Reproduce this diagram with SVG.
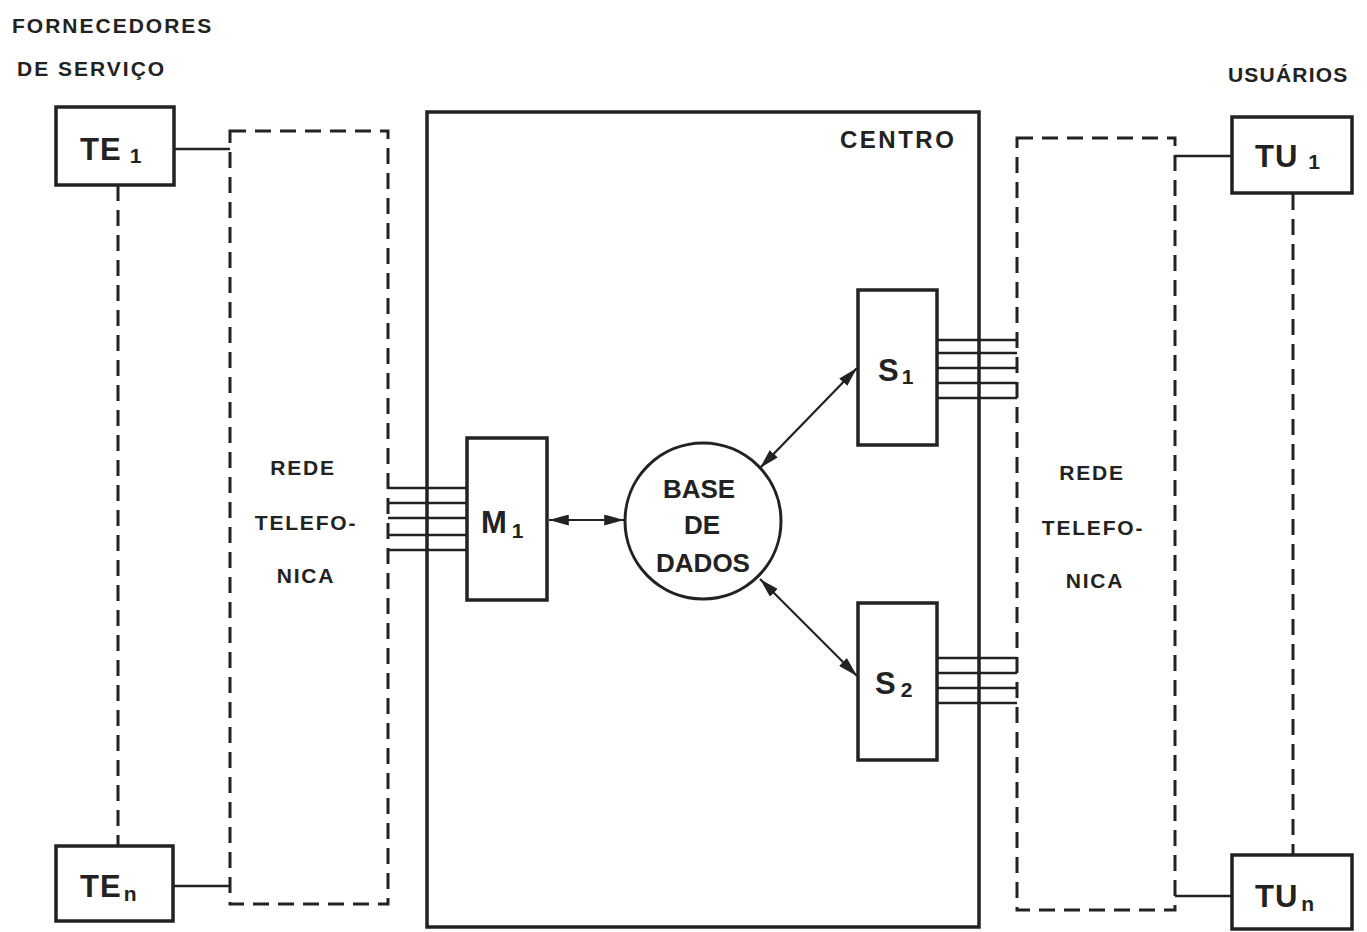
<svg xmlns="http://www.w3.org/2000/svg" width="1367" height="932" viewBox="0 0 1367 932">
<defs>
<style>
.box{fill:none;stroke:#222;stroke-width:3.5}
.dash{fill:none;stroke:#222;stroke-width:3;stroke-dasharray:16 9}
.ln{fill:none;stroke:#222;stroke-width:2.5}
.arr{fill:none;stroke:#222;stroke-width:2.2;marker-start:url(#ah);marker-end:url(#ah)}
.t{font-family:"Liberation Sans",Arial,sans-serif;font-weight:bold;fill:#222}
.lbl{font-size:21px;letter-spacing:1.8px}
.big{font-size:31px}
.sub{font-size:21px}
</style>
<marker id="ah" viewBox="0 0 18 10" refX="18" refY="5" markerWidth="9" markerHeight="5" markerUnits="strokeWidth" orient="auto-start-reverse">
<path d="M0,0 L18,5 L0,10 Z" fill="#222"/>
</marker>
</defs>
<rect width="1367" height="932" fill="#fff"/>

<g id="titles">
<text class="t lbl" x="12" y="33" style="letter-spacing:2px">FORNECEDORES</text>
<text class="t lbl" x="17" y="76" style="letter-spacing:2px">DE  SERVIÇO</text>
<text class="t lbl" x="1228" y="82" style="letter-spacing:1.2px">USUÁRIOS</text>
</g>

<g id="connectors">
<line class="ln" x1="174" y1="149" x2="230" y2="149"/>
<line class="ln" x1="173" y1="886" x2="230" y2="886"/>
<line class="dash" x1="118" y1="185" x2="118" y2="846"/>
<line class="ln" x1="1175" y1="156" x2="1232" y2="156"/>
<line class="ln" x1="1175" y1="896" x2="1232" y2="896"/>
<line class="dash" x1="1293" y1="194" x2="1293" y2="855"/>
<g class="ln">
<line x1="388" y1="488" x2="467" y2="488"/>
<line x1="388" y1="503" x2="467" y2="503"/>
<line x1="388" y1="518" x2="467" y2="518"/>
<line x1="388" y1="535" x2="467" y2="535"/>
<line x1="388" y1="550" x2="467" y2="550"/>
<line x1="937" y1="340" x2="1017" y2="340"/>
<line x1="937" y1="353" x2="1017" y2="353"/>
<line x1="937" y1="368" x2="1017" y2="368"/>
<line x1="937" y1="383" x2="1017" y2="383"/>
<line x1="937" y1="398" x2="1017" y2="398"/>
<line x1="937" y1="658" x2="1017" y2="658"/>
<line x1="937" y1="673" x2="1017" y2="673"/>
<line x1="937" y1="688" x2="1017" y2="688"/>
<line x1="937" y1="703" x2="1017" y2="703"/>
</g>
<line class="arr" x1="549" y1="520" x2="624" y2="520"/>
<line class="arr" x1="760" y1="468" x2="857" y2="368"/>
<line class="arr" x1="760" y1="579" x2="857" y2="676"/>
</g>

<g id="rede-left">
<rect class="dash" x="230" y="131" width="158" height="773"/>
<text class="t lbl" x="303" y="475" text-anchor="middle">REDE</text>
<text class="t lbl" x="306" y="530" text-anchor="middle">TELEFO-</text>
<text class="t lbl" x="306" y="583" text-anchor="middle">NICA</text>
</g>

<g id="rede-right">
<rect class="dash" x="1017" y="138" width="158" height="772"/>
<text class="t lbl" x="1092" y="480" text-anchor="middle">REDE</text>
<text class="t lbl" x="1093" y="535" text-anchor="middle">TELEFO-</text>
<text class="t lbl" x="1095" y="588" text-anchor="middle">NICA</text>
</g>

<g id="centro">
<rect class="box" x="427" y="112" width="552" height="815"/>
<text class="t" font-size="24" style="letter-spacing:2.5px" x="840" y="148">CENTRO</text>
</g>

<g id="te1">
<rect class="box" x="56" y="107" width="118" height="78"/>
<text class="t big" x="80" y="160" style="letter-spacing:1px">TE<tspan class="sub" dx="8" dy="3">1</tspan></text>
</g>
<g id="ten">
<rect class="box" x="56" y="846" width="117" height="75"/>
<text class="t big" x="80" y="897" style="letter-spacing:1px">TE<tspan class="sub" dx="2" dy="4">n</tspan></text>
</g>
<g id="tu1">
<rect class="box" x="1232" y="117" width="120" height="76"/>
<text class="t big" x="1255" y="167" style="letter-spacing:1px">TU<tspan class="sub" dx="10" dy="2">1</tspan></text>
</g>
<g id="tun">
<rect class="box" x="1232" y="855" width="120" height="74"/>
<text class="t big" x="1255" y="907" style="letter-spacing:1px">TU<tspan class="sub" dx="3" dy="4">n</tspan></text>
</g>

<g id="m1">
<rect class="box" x="467" y="438" width="80" height="162"/>
<text class="t big" x="481" y="533">M<tspan class="sub" dx="5" dy="5">1</tspan></text>
</g>
<g id="s1">
<rect class="box" x="858" y="290" width="79" height="155"/>
<text class="t big" x="878" y="381">S<tspan class="sub" dx="3" dy="3">1</tspan></text>
</g>
<g id="s2">
<rect class="box" x="858" y="603" width="79" height="157"/>
<text class="t big" x="875" y="694">S<tspan class="sub" dx="5" dy="3">2</tspan></text>
</g>

<g id="base-de-dados">
<circle cx="703" cy="521" r="78" fill="none" stroke="#222" stroke-width="3"/>
<text class="t" font-size="26" x="699" y="498" text-anchor="middle">BASE</text>
<text class="t" font-size="26" x="702" y="534" text-anchor="middle">DE</text>
<text class="t" font-size="26" x="703" y="572" text-anchor="middle">DADOS</text>
</g>
</svg>
